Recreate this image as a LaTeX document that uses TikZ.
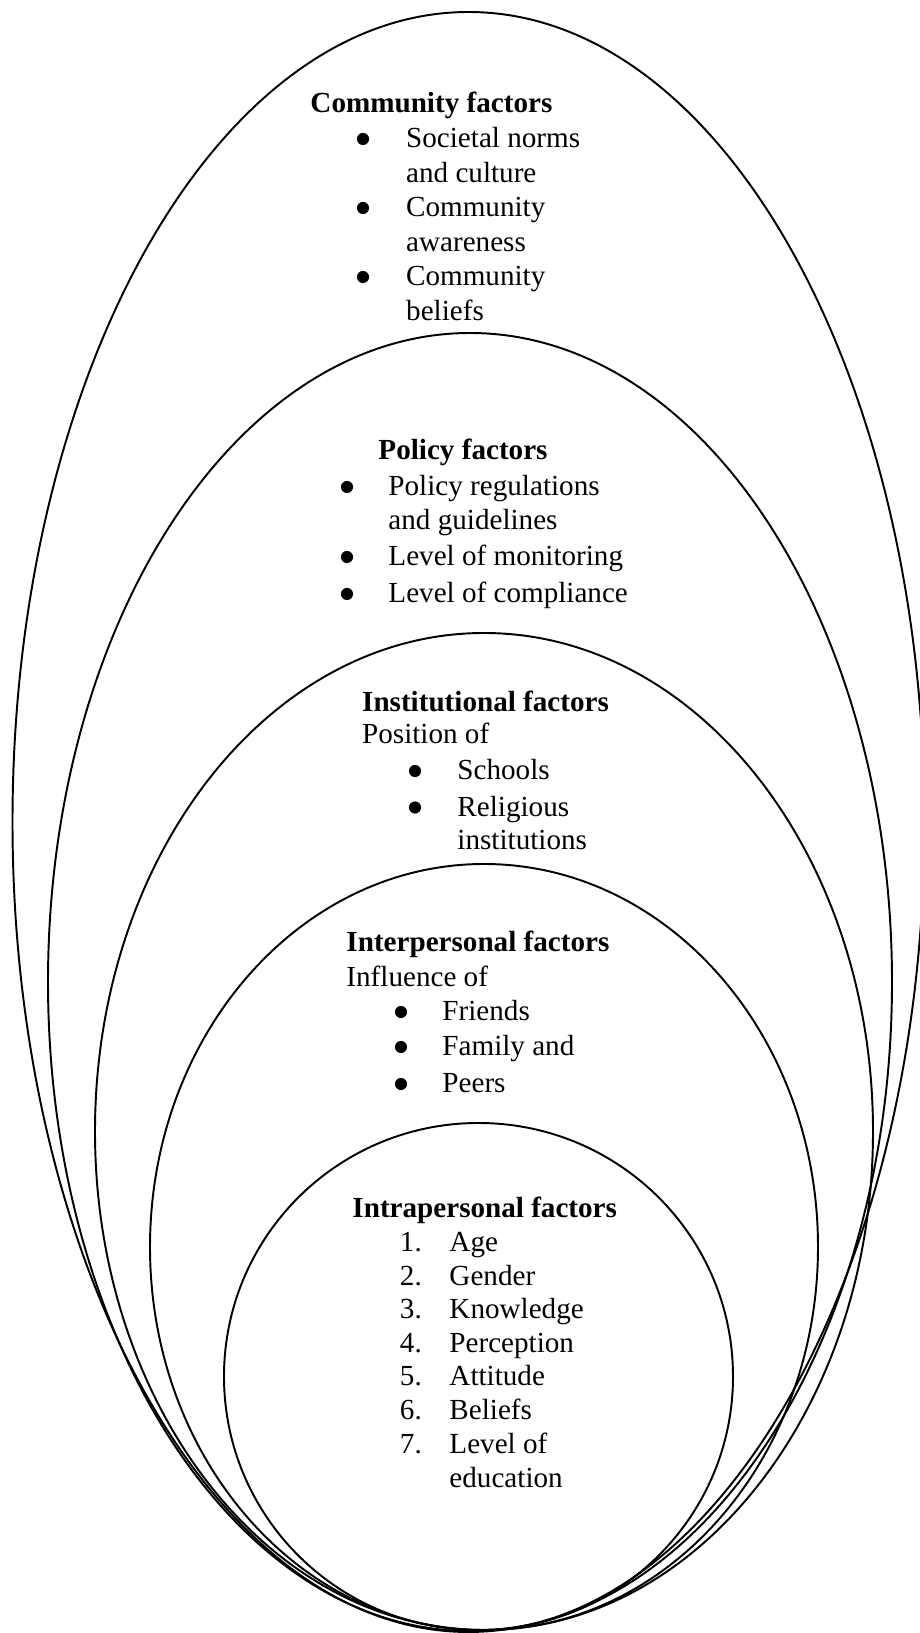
\documentclass[tikz,border=0pt,12pt]{standalone}
\usepackage{fontspec}
\setmainfont{Liberation Serif}
\usetikzlibrary{positioning}

\tikzset{
  layer/.style={line width=0.8pt},
  head/.style={anchor=base west, font=\bfseries, inner sep=0pt},
  entry/.style={anchor=base west, inner sep=0pt},
  dot/.style={circle, fill, inner sep=0pt, minimum size=5pt},
}

\begin{document}
\begin{tikzpicture}[x=0.412pt, y=0.412pt]
  \useasboundingbox (0,0) rectangle (919,1633);
  % nested layers, outermost first
  \draw[layer] (468.5,811) ellipse [x radius=456, y radius=810];
  \draw[layer] (470,651) ellipse [x radius=422, y radius=649];
  \draw[layer] (484,501.5) ellipse [x radius=389, y radius=498.5];
  \draw[layer] (484,386) ellipse [x radius=334, y radius=383];
  \draw[layer] (478.5,256.5) ellipse [x radius=254.5, y radius=253.5];

  % community
  \node[head] (com) at (310,1520) {Community factors};
  \node[dot] (comb1) at (363,1485+9) {};
  \node[entry] (com1) at (405.7,1485) {Societal norms};
  \node[entry] (com1b) at (405.7,1450.5) {and culture};
  \node[dot] (comb2) at (363,1416+9) {};
  \node[entry] (com2) at (405.7,1416) {Community};
  \node[entry] (com2b) at (405.7,1381.5) {awareness};
  \node[dot] (comb3) at (363,1347+9) {};
  \node[entry] (com3) at (405.7,1347) {Community};
  \node[entry] (com3b) at (405.7,1312.5) {beliefs};

  % policy
  \node[head] (pol) at (378,1173) {Policy factors};
  \node[dot] (polb1) at (347,1137+9) {};
  \node[entry] (pol1) at (388,1137) {Policy regulations};
  \node[entry] (pol1b) at (388,1103) {and guidelines};
  \node[dot] (polb2) at (347,1067+9) {};
  \node[entry] (pol2) at (388,1067) {Level of monitoring};
  \node[dot] (polb3) at (347,1030+9) {};
  \node[entry] (pol3) at (388,1030) {Level of compliance};

  % institutional
  \node[head] (ins) at (361.7,921.5) {Institutional factors};
  \node[entry] (inspos) at (361.7,889) {Position of};
  \node[dot] (insb1) at (415,853+9) {};
  \node[entry] (ins1) at (457,853) {Schools};
  \node[dot] (insb2) at (415,816.5+9) {};
  \node[entry] (ins2) at (457,816.5) {Religious};
  \node[entry] (ins2b) at (457,783) {institutions};

  % interpersonal
  \node[head] (inter) at (346,681) {Interpersonal factors};
  \node[entry] (interinf) at (346,646) {Influence of};
  \node[dot] (interb1) at (401,612+9) {};
  \node[entry] (inter1) at (442,612) {Friends};
  \node[dot] (interb2) at (401,577+9) {};
  \node[entry] (inter2) at (442,577) {Family and};
  \node[dot] (interb3) at (401,540+9) {};
  \node[entry] (inter3) at (442,540) {Peers};

  % intrapersonal
  \node[head] (intra) at (352,415) {Intrapersonal factors};
  \foreach \txt [count=\i] in {Age,Gender,Knowledge,Perception,Attitude,Beliefs,Level of}
  {
    \node[entry] (intran\i) at (399.5,415-33.6*\i) {\i.};
    \node[entry] (intra\i) at (449,415-33.6*\i) {\txt};
  }
  \node[entry] (intra7b) at (449,145) {education};
\end{tikzpicture}
\end{document}
